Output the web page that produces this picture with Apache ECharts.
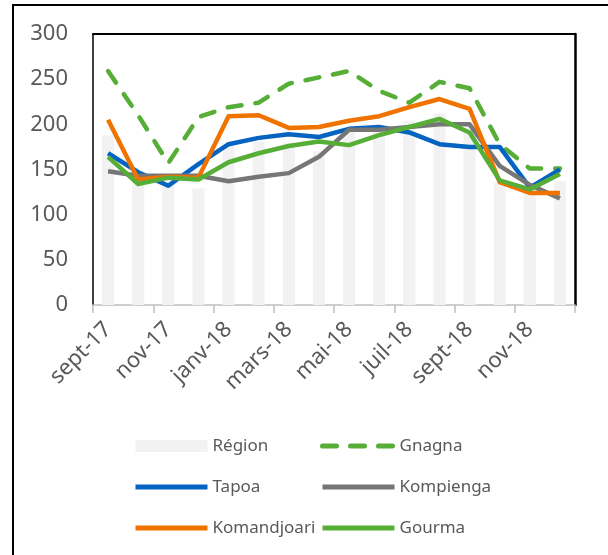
<!DOCTYPE html>
<html>
<head>
<meta charset="utf-8">
<script src="https://cdn.jsdelivr.net/npm/echarts@6/dist/echarts.min.js"></script>
<style>
  html, body { margin: 0; padding: 0; background: #fff; }
  #chart { width: 608px; height: 555px; }
</style>
</head>
<body>
<div id="chart"></div>
<script>
  // mois (étiquettes affichées une sur deux)
  var categories = ['sept-17', 'oct-17', 'nov-17', 'déc-17', 'janv-18', 'févr-18', 'mars-18', 'avr-18',
    'mai-18', 'juin-18', 'juil-18', 'août-18', 'sept-18', 'oct-18', 'nov-18', 'déc-18'];
  var yTicks = [0, 50, 100, 150, 200, 250, 300];

  var region      = [188, 143, 140, 129, 177, 181, 180, 170, 193, 197, 204, 212, 193, 136, 128, 137];
  var gnagna      = [259, 210, 157, 208, 219, 224, 245, 252, 259, 237, 224, 247, 240, 178, 151, 151];
  var tapoa       = [168, 147, 132, 156, 178, 185, 189, 186, 195, 197, 191, 178, 175, 175, 130, 150];
  var kompienga   = [148, 143, 143, 143, 137, 142, 146, 164, 194, 194, 197, 200, 200, 154, 133, 118];
  var komandjoari = [205, 139, 142, 141, 209, 210, 196, 197, 204, 209, 219, 228, 217, 136, 124, 124];
  var gourma      = [164, 134, 141, 139, 158, 168, 176, 181, 177, 188, 197, 206, 191, 138, 128, 145];

  var FONT = 'Noto Sans';
  var GREEN = '#56AE36';

  function line(name, data, color, dashed) {
    return {
      name: name,
      type: 'line',
      data: data,
      symbol: 'none',
      lineStyle: {
        color: color,
        width: 4.5,
        type: dashed ? [14, 14] : 'solid',
        cap: dashed ? 'round' : 'butt',
        join: 'round'
      },
      itemStyle: { color: color }
    };
  }

  // entrée de légende pour une courbe : trait seul, sans symbole
  function legLine(name) {
    return { name: name, itemStyle: { opacity: 0 } };
  }

  var legendText = { color: '#595959', fontSize: 17, lineHeight: 20, fontFamily: FONT };

  var chart = echarts.init(document.getElementById('chart'));
  chart.setOption({
    animation: false,
    textStyle: { fontFamily: FONT },
    graphic: [{
      type: 'rect',
      shape: { x: 13, y: 5, width: 700, height: 700 },
      style: { fill: 'none', stroke: '#000', lineWidth: 2 },
      silent: true
    }],
    grid: { left: 93, right: 33, top: 34, bottom: 250 },
    xAxis: [{
      type: 'category',
      data: categories,
      boundaryGap: true,
      axisLine: { show: true, lineStyle: { color: '#bfbfbf', width: 1.5 } },
      axisTick: { show: true, interval: 1, length: 8, lineStyle: { color: '#bfbfbf', width: 1.5 } },
      axisLabel: { interval: 1, rotate: 45, margin: 21, color: '#595959', fontSize: 22, fontFamily: FONT }
    }, {
      type: 'category',
      position: 'top',
      data: categories,
      axisLine: { show: true, onZero: false, lineStyle: { color: '#000', width: 2 } },
      axisTick: { show: false },
      axisLabel: { show: false }
    }],
    yAxis: [{
      type: 'value',
      min: yTicks[0],
      max: yTicks[yTicks.length - 1],
      interval: 50,
      axisLine: { show: true, onZero: false, lineStyle: { color: '#000', width: 1.5 } },
      axisTick: { show: false },
      splitLine: { show: false },
      axisLabel: { margin: 25, color: '#595959', fontSize: 22, fontFamily: FONT }
    }, {
      type: 'value',
      position: 'right',
      min: 0,
      max: 300,
      interval: 50,
      axisLine: { show: true, onZero: false, lineStyle: { color: '#000', width: 2.5 } },
      axisTick: { show: false },
      splitLine: { show: false },
      axisLabel: { show: false }
    }],
    legend: [{
      orient: 'vertical',
      left: 128,
      top: 431,
      itemWidth: 72,
      itemHeight: 12,
      itemGap: 21,
      lineStyle: { width: 5 },
      textStyle: legendText,
      data: [{ name: 'Région', icon: 'rect' }, legLine('Tapoa'), legLine('Komandjoari')]
    }, {
      orient: 'vertical',
      left: 315,
      top: 431,
      itemWidth: 72,
      itemHeight: 12,
      itemGap: 21,
      lineStyle: { width: 5 },
      textStyle: legendText,
      data: [legLine('Gnagna'), legLine('Kompienga'), legLine('Gourma')]
    }],
    series: [
      {
        name: 'Région',
        type: 'bar',
        data: region,
        barCategoryGap: '60%',
        itemStyle: { color: '#f2f2f2' }
      },
      line('Gnagna', gnagna, GREEN, true),
      line('Tapoa', tapoa, '#0563C1'),
      line('Kompienga', kompienga, '#767676'),
      line('Komandjoari', komandjoari, '#F07300'),
      line('Gourma', gourma, GREEN)
    ]
  });
</script>
</body>
</html>
